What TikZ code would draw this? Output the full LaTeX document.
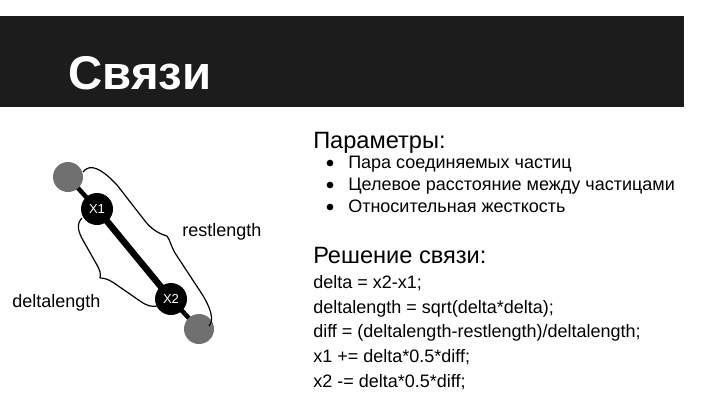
\documentclass[tikz,border=0pt]{standalone}
\usepackage{fontspec}
\setmainfont{Liberation Sans}
\usetikzlibrary{backgrounds}

\definecolor{bannergray}{RGB}{28,28,28}
\definecolor{ballgray}{RGB}{112,112,112}

\tikzset{every picture/.style={line width=0.75pt}}
\tikzset{
  endball/.style={circle,fill=ballgray,inner sep=0pt,minimum size=22.5pt},
  midball/.style={circle,fill=black,inner sep=0pt,minimum size=24pt,text=white,font=\fontsize{9.8}{11}\selectfont},
  bodytext/.style={anchor=base west,inner sep=0pt,font=\fontsize{13.5}{16}\selectfont},
  headtext/.style={anchor=base west,inner sep=0pt,font=\fontsize{17.7}{21}\selectfont},
  bulletdot/.style={circle,fill=black,inner sep=0pt,minimum size=5pt},
  bracecurve/.style={line width=0.9pt,line join=round}
}

\begin{document}
\begin{tikzpicture}[x=0.75pt,y=0.75pt,yscale=-1,xscale=1]
\path [use as bounding box] (0,0) rectangle (720,405);

%Banner
\fill [bannergray] (0,16) rectangle (684,107);
% Text Node
\node [anchor=base west,inner sep=0pt,text=white,font=\fontsize{35.5}{42}\selectfont\bfseries] (title) at (68,89) {Связи};

%Balls
\node [endball] (top) at (68,177) {};
\node [endball] (bottom) at (199,329) {};
\node [midball] (xone) at (97,209) {X1};
\node [midball] (xtwo) at (171,299) {X2};

%Straight Lines
\begin{pgfonlayer}{background}
\draw [line width=3.4pt] (top.center) -- (xone.center) ;
\draw [line width=3.4pt] (xtwo.center) -- (bottom.center) ;
\draw [line width=4.9pt] (xone.center) -- (xtwo.center) ;
\end{pgfonlayer}

%Curve Lines restlength
\draw [bracecurve] (83,172) .. controls (90,163) and (101,168) .. (117,185) -- (145,221) .. controls (152,230) and (160,234) .. (167,236) ;
\draw [bracecurve] (167,236) .. controls (170,240) and (171,246) .. (175,253) -- (200,291) .. controls (212,309) and (214,321) .. (209,326) ;
%Curve Lines deltalength
\draw [bracecurve] (82,218) .. controls (76,224) and (78,232) .. (84,242) -- (97,265) .. controls (100,270) and (101,274) .. (100,278) ;
\draw [bracecurve] (100,278) .. controls (104,278) and (108,279) .. (114,283) -- (140,301) .. controls (147,306) and (152,307) .. (157,306) ;

% Text Node
\node [bodytext] (rest) at (182,236) {restlength};
% Text Node
\node [bodytext] (deltal) at (12,307) {deltalength};

% Text Node
\node [headtext] (params) at (313,148) {Параметры:};
\node [bulletdot] (dotone) at (330,163) {};
\node [bodytext] (pone) at (348,168) {Пара соединяемых частиц};
\node [bulletdot] (dottwo) at (330,185) {};
\node [bodytext] (ptwo) at (348,190) {Целевое расстояние между частицами};
\node [bulletdot] (dotthree) at (330,207) {};
\node [bodytext] (pthree) at (348,212) {Относительная жесткость};

% Text Node
\node [headtext] (solve) at (313,263) {Решение связи:};
\node [bodytext] (cone) at (313,288) {delta = x2-x1;};
\node [bodytext] (ctwo) at (313,313) {deltalength = sqrt(delta*delta);};
\node [bodytext] (cthree) at (313,337) {diff = (deltalength-restlength)/deltalength;};
\node [bodytext] (cfour) at (313,362) {x1 += delta*0.5*diff;};
\node [bodytext] (cfive) at (313,387) {x2 -= delta*0.5*diff;};

\end{tikzpicture}
\end{document}
